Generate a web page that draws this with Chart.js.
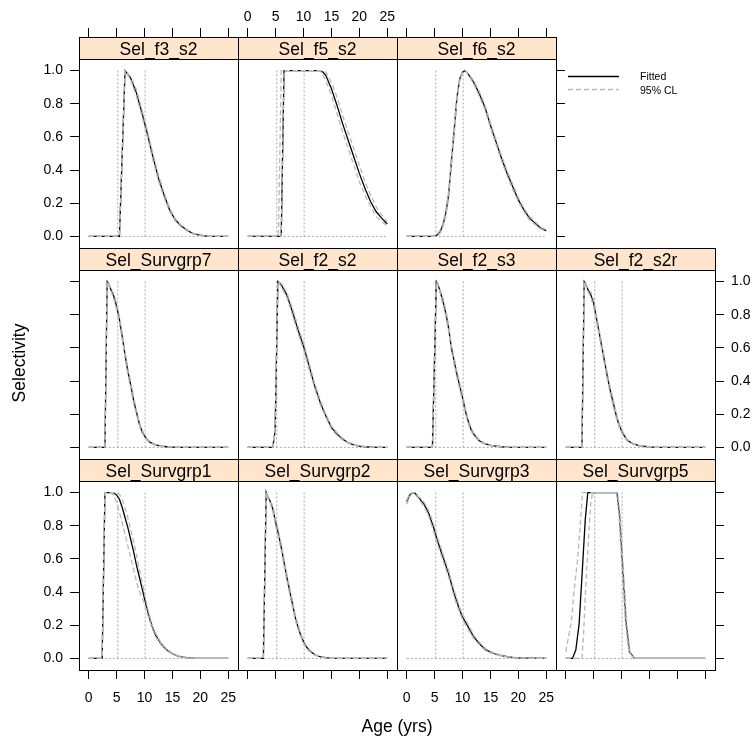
<!DOCTYPE html>
<html><head><meta charset="utf-8">
<script src="https://cdn.jsdelivr.net/npm/chart.js@4.4.1/dist/chart.umd.min.js"></script>
<style>
html,body{margin:0;padding:0;background:#fff;}
#wrap{position:relative;width:755px;height:740px;background:#fff;}
#wrap canvas{position:absolute;left:0;top:0;}
</style></head><body><div id="wrap"></div>
<script>
// ---------- data ----------
const panelNames = ["Sel_f3_s2","Sel_f5_s2","Sel_f6_s2","Sel_Survgrp7","Sel_f2_s2","Sel_f2_s3","Sel_f2_s2r","Sel_Survgrp1","Sel_Survgrp2","Sel_Survgrp3","Sel_Survgrp5"];
const xTicks = [0,5,10,15,20,25];
const yTicks = [0,0.2,0.4,0.6,0.8,1.0];
const refAges = [5.2, 10.1];
const zeroLineAges = [0, 25];
const legendLabels = ["Fitted","95% CL"];
const xTitle = "Age (yrs)";
const yTitle = "Selectivity";

const f3s2Age = [0,5.5,6.5,7.5,8.5,9.5,10.5,11.5,12.5,13.5,14.5,15.5,16.5,17.5,18.5,19.5,20.5,21.5,25];
const f3s2Fit = [0,0,1.0,0.955,0.87,0.75,0.62,0.48,0.35,0.25,0.16,0.10,0.065,0.04,0.02,0.01,0.005,0,0];
const f3s2Lo  = [0,0,1.0,0.945,0.85,0.73,0.60,0.46,0.335,0.235,0.15,0.093,0.058,0.035,0.017,0.008,0.004,0,0];
const f3s2Hi  = [0,0,1.0,0.965,0.89,0.77,0.64,0.50,0.37,0.265,0.17,0.108,0.07,0.045,0.023,0.012,0.006,0,0];

const f5s2Age = [0,5.5,6,6.5,12.8,13,13.3,13.5,14,15,16,17,18,19,20,21,22,23,24,25];
const f5s2Fit = [0,0,0,1,1,1,0.995,0.99,0.97,0.89,0.79,0.68,0.58,0.48,0.38,0.29,0.21,0.15,0.11,0.075];
const f5s2Lo  = [0,0,0,1,1,0.995,0.985,0.97,0.94,0.85,0.74,0.63,0.53,0.43,0.33,0.25,0.18,0.12,0.09,0.065];
const f5s2Hi  = [0,0,1,1,1,1,1,0.998,0.99,0.93,0.84,0.73,0.63,0.53,0.43,0.33,0.25,0.18,0.13,0.09];

const f6s2Age = [0,5,5.5,6,6.5,7,7.5,8,8.5,9,9.5,10,10.5,11,12,13,14,15,16,17,18,19,20,21,22,23,24,25];
const f6s2Fit = [0,0,0.01,0.03,0.07,0.14,0.25,0.45,0.64,0.84,0.95,0.99,1.0,0.98,0.93,0.86,0.78,0.67,0.57,0.47,0.38,0.30,0.22,0.16,0.11,0.08,0.05,0.035];
const f6s2Lo  = [0,0,0.005,0.02,0.06,0.12,0.23,0.42,0.61,0.82,0.94,0.985,1.0,0.975,0.92,0.845,0.765,0.655,0.555,0.455,0.365,0.285,0.21,0.15,0.10,0.072,0.045,0.03];
const f6s2Hi  = [0,0,0.015,0.04,0.08,0.16,0.27,0.48,0.67,0.86,0.96,0.995,1.0,0.985,0.94,0.875,0.795,0.685,0.585,0.485,0.395,0.315,0.235,0.17,0.12,0.088,0.056,0.04];

const sg7Age = [0,2.9,3.3,3.5,4,4.5,5,5.5,6,6.5,7,7.5,8,8.5,9,9.5,10,10.5,11,12,13,14,15,16,25];
const sg7Fit = [0,0,1,0.99,0.95,0.91,0.85,0.77,0.67,0.56,0.46,0.38,0.29,0.22,0.15,0.10,0.07,0.045,0.03,0.015,0.008,0.004,0.002,0,0];
const sg7Lo  = [0,0,1,0.985,0.94,0.895,0.83,0.75,0.65,0.54,0.44,0.36,0.27,0.205,0.14,0.09,0.062,0.04,0.026,0.013,0.007,0.003,0.001,0,0];
const sg7Hi  = [0,0,1,0.995,0.96,0.925,0.87,0.79,0.69,0.58,0.48,0.40,0.31,0.235,0.16,0.11,0.078,0.05,0.034,0.017,0.009,0.005,0.003,0,0];

const f2s2Age = [0,4.5,4.9,5.4,6,7,8,9,10,11,12,13,14,15,16,17,18,19,20,21,22,23,25];
const f2s2Fit = [0,0,0.1,1,0.98,0.92,0.82,0.71,0.61,0.49,0.37,0.27,0.19,0.12,0.08,0.05,0.028,0.015,0.008,0.004,0.002,0,0];
const f2s2Lo  = [0,0,0.08,1,0.97,0.905,0.80,0.69,0.59,0.47,0.355,0.255,0.18,0.11,0.072,0.045,0.025,0.013,0.007,0.003,0.001,0,0];
const f2s2Hi  = [0,0,0.14,1,0.99,0.935,0.84,0.73,0.63,0.51,0.385,0.285,0.20,0.13,0.088,0.056,0.032,0.018,0.01,0.005,0.002,0,0];

const f2s3Age = [0,4.6,5.3,5.5,6,6.5,7,7.5,8,8.5,9,9.5,10,10.5,11,11.5,12,12.5,13,14,15,16,17,18,19,25];
const f2s3Fit = [0,0,1,0.99,0.94,0.88,0.81,0.72,0.60,0.52,0.44,0.37,0.30,0.22,0.16,0.11,0.08,0.06,0.04,0.022,0.012,0.008,0.004,0.002,0,0];
const f2s3Lo  = [0,0,1,0.985,0.93,0.86,0.79,0.70,0.58,0.50,0.42,0.35,0.28,0.205,0.145,0.10,0.072,0.053,0.035,0.019,0.01,0.006,0.003,0.001,0,0];
const f2s3Hi  = [0,0,1,0.995,0.95,0.90,0.83,0.74,0.62,0.54,0.46,0.39,0.32,0.235,0.175,0.12,0.088,0.067,0.045,0.025,0.014,0.009,0.005,0.002,0,0];

const f2s2rAge = [0,2.9,3.3,3.5,4,4.5,5,5.5,6,6.5,7,7.5,8,8.5,9,9.5,10,10.5,11,12,13,14,15,16,25];
const f2s2rFit = [0,0,1,0.99,0.95,0.92,0.87,0.78,0.69,0.60,0.51,0.42,0.34,0.27,0.20,0.14,0.10,0.07,0.045,0.022,0.012,0.007,0.003,0,0];
const f2s2rLo  = [0,0,1,0.985,0.94,0.905,0.85,0.76,0.67,0.58,0.49,0.40,0.32,0.25,0.185,0.13,0.09,0.062,0.04,0.019,0.01,0.005,0.002,0,0];
const f2s2rHi  = [0,0,1,0.995,0.96,0.935,0.89,0.80,0.71,0.62,0.53,0.44,0.36,0.29,0.215,0.15,0.11,0.078,0.05,0.026,0.014,0.008,0.004,0,0];

const sg1Age = [0,2.4,2.9,4,4.4,4.5,5,5.5,6,6.5,7,7.5,8,8.5,9,9.5,10,10.5,11,11.5,12,13,14,15,16,17,18,19,25];
const sg1Fit = [0,0,1,1,1,0.998,0.985,0.96,0.91,0.85,0.79,0.72,0.65,0.57,0.50,0.43,0.36,0.29,0.23,0.18,0.14,0.085,0.05,0.028,0.014,0.007,0.003,0,0];
const sg1Lo  = [0,0,1,1,0.985,0.98,0.94,0.88,0.82,0.75,0.68,0.61,0.54,0.47,0.41,0.37,0.33,0.27,0.22,0.17,0.13,0.08,0.045,0.025,0.012,0.006,0.002,0,0];
const sg1Hi  = [0,0,1,1,1,1,1,0.99,0.96,0.91,0.85,0.78,0.71,0.63,0.55,0.47,0.39,0.31,0.245,0.19,0.15,0.09,0.055,0.03,0.015,0.007,0.003,0,0];

const sg2Age = [0,2.8,3.3,3.5,4,4.5,5,5.5,6,6.5,7,7.5,8,8.5,9,9.5,10,10.5,11,11.5,12,13,14,15,25];
const sg2Fit = [0,0,1,0.98,0.95,0.90,0.82,0.75,0.67,0.58,0.49,0.41,0.33,0.25,0.19,0.14,0.10,0.07,0.05,0.035,0.023,0.01,0.004,0,0];
const sg2Lo  = [0,0,1,0.975,0.94,0.885,0.80,0.73,0.65,0.56,0.47,0.39,0.31,0.235,0.175,0.13,0.09,0.062,0.044,0.03,0.02,0.008,0.003,0,0];
const sg2Hi  = [0,0,1,0.985,0.96,0.915,0.84,0.77,0.69,0.60,0.51,0.43,0.35,0.265,0.205,0.15,0.11,0.078,0.056,0.04,0.026,0.012,0.005,0,0];

const sg3Age = [0,0.5,1,1.5,2,2.5,3,3.5,4,4.5,5,5.5,6,6.5,7,7.5,8,8.5,9,9.5,10,11,12,13,14,15,16,17,18,19,20,21,22,25];
const sg3Fit = [0.945,0.985,1.0,0.995,0.975,0.955,0.935,0.905,0.87,0.82,0.77,0.71,0.66,0.61,0.56,0.51,0.45,0.39,0.34,0.29,0.25,0.19,0.13,0.09,0.056,0.038,0.025,0.017,0.01,0.006,0.004,0.002,0.001,0];
const sg3Lo  = [0.93,0.975,0.995,0.99,0.97,0.945,0.92,0.89,0.85,0.80,0.745,0.69,0.64,0.59,0.54,0.49,0.43,0.37,0.32,0.275,0.235,0.175,0.12,0.082,0.05,0.034,0.022,0.015,0.009,0.005,0.003,0.001,0,0];
const sg3Hi  = [0.955,0.99,1.0,1.0,0.98,0.965,0.945,0.92,0.885,0.84,0.79,0.73,0.68,0.63,0.58,0.53,0.47,0.41,0.36,0.305,0.265,0.205,0.14,0.098,0.062,0.042,0.028,0.019,0.011,0.007,0.005,0.003,0.001,0];

const sg5FitAge = [0,1.2,1.8,2.4,3.0,3.5,3.95,9.2,9.6,10.2,10.8,11.4,12.3,25];
const sg5Fit    = [0,0,0.05,0.21,0.55,0.84,1,1,0.88,0.55,0.22,0.04,0,0];
const sg5HiAge  = [0,1,1.5,2.1,2.7,3.0,9.3,9.7,10.3,10.9,11.5,12.4,25];
const sg5Hi     = [0.04,0.22,0.41,0.59,0.85,1,1,0.88,0.55,0.22,0.04,0,0];
const sg5LoAge  = [0,2.9,3.2,3.5,3.9,4.2,4.5,4.8,9.1,9.5,10.1,10.7,11.3,12.2,25];
const sg5Lo     = [0,0,0.15,0.38,0.62,0.8,0.94,1,1,0.88,0.55,0.22,0.04,0,0];

const series = [
  {fitAge:f3s2Age, fit:f3s2Fit, loAge:f3s2Age, lo:f3s2Lo, hiAge:f3s2Age, hi:f3s2Hi},
  {fitAge:f5s2Age, fit:f5s2Fit, loAge:f5s2Age, lo:f5s2Lo, hiAge:f5s2Age, hi:f5s2Hi},
  {fitAge:f6s2Age, fit:f6s2Fit, loAge:f6s2Age, lo:f6s2Lo, hiAge:f6s2Age, hi:f6s2Hi},
  {fitAge:sg7Age, fit:sg7Fit, loAge:sg7Age, lo:sg7Lo, hiAge:sg7Age, hi:sg7Hi},
  {fitAge:f2s2Age, fit:f2s2Fit, loAge:f2s2Age, lo:f2s2Lo, hiAge:f2s2Age, hi:f2s2Hi},
  {fitAge:f2s3Age, fit:f2s3Fit, loAge:f2s3Age, lo:f2s3Lo, hiAge:f2s3Age, hi:f2s3Hi},
  {fitAge:f2s2rAge, fit:f2s2rFit, loAge:f2s2rAge, lo:f2s2rLo, hiAge:f2s2rAge, hi:f2s2rHi},
  {fitAge:sg1Age, fit:sg1Fit, loAge:sg1Age, lo:sg1Lo, hiAge:sg1Age, hi:sg1Hi},
  {fitAge:sg2Age, fit:sg2Fit, loAge:sg2Age, lo:sg2Lo, hiAge:sg2Age, hi:sg2Hi},
  {fitAge:sg3Age, fit:sg3Fit, loAge:sg3Age, lo:sg3Lo, hiAge:sg3Age, hi:sg3Hi},
  {fitAge:sg5FitAge, fit:sg5Fit, loAge:sg5LoAge, lo:sg5Lo, hiAge:sg5HiAge, hi:sg5Hi}
];

// ---------- layout ----------
const W = 755, H = 740;
const colX = [79, 238, 397, 556, 715];
const rowY = [37, 248, 459, 670];
const STRIP = 22;
const AX_TOP = 30, AX_BOT = 40, AX_LEFT = 45, AX_RIGHT = 38;
const cells = [[0,0],[0,1],[0,2],[1,0],[1,1],[1,2],[1,3],[2,0],[2,1],[2,2],[2,3]];
const X_MIN = -1.75, X_MAX = 26.75;
const Y_MIN = -0.07, Y_TOP = 1.07;
const Y_MAX = Y_TOP + STRIP * (Y_TOP - Y_MIN) / ((rowY[1] - rowY[0]) - STRIP);
const FONT = "'Liberation Sans', Arial, Helvetica, sans-serif";
const CI_COLOR = '#b8b8b8', REF_COLOR = '#a8a8a8';

// which axes show ticks / labels
function axisFlags(r, c) {
  const lastCol = (r === 0) ? 2 : 3;
  return {
    topTicks: r === 0, topLabels: r === 0 && c === 1,
    botTicks: r === 2, botLabels: r === 2 && (c === 0 || c === 2),
    leftTicks: c === 0, leftLabels: c === 0 && (r === 0 || r === 2),
    rightTicks: c === lastCol, rightLabels: c === lastCol && r === 1
  };
}

function pts(ages, vals) { return ages.map((a, i) => ({x: a, y: vals[i]})); }

function xAxis(pos, size, showTicks, showLabels, pad) {
  return {
    type: 'linear', position: pos, min: X_MIN, max: X_MAX,
    afterFit(s) { s.height = size; },
    afterBuildTicks(s) { s.ticks = xTicks.map(v => ({value: v})); },
    grid: {display: true, drawOnChartArea: false, drawTicks: showTicks, tickLength: 9, tickColor: '#000', color: '#000', lineWidth: 1},
    border: {display: true, color: '#000', width: 1},
    ticks: {display: showLabels, autoSkip: false, maxRotation: 0, minRotation: 0, padding: pad, color: '#000',
      font: {family: FONT, size: 14}, callback: v => String(v)}
  };
}
function yAxis(pos, size, showTicks, showLabels) {
  return {
    type: 'linear', position: pos, min: Y_MIN, max: Y_MAX,
    afterFit(s) { s.width = size; },
    afterBuildTicks(s) { s.ticks = yTicks.map(v => ({value: v})); },
    grid: {display: true, drawOnChartArea: false, drawTicks: showTicks, tickLength: 9, tickColor: '#000', color: '#000', lineWidth: 1},
    border: {display: true, color: '#000', width: 1},
    ticks: {display: showLabels, autoSkip: false, padding: 7, color: '#000',
      font: {family: FONT, size: 14}, callback: v => Number(v).toFixed(1)}
  };
}

const stripPlugin = {
  id: 'strip',
  afterDatasetsDraw(chart, args, opts) {
    const {ctx, chartArea} = chart;
    const yb = Math.round(chart.scales.y.getPixelForValue(Y_TOP));
    const l = Math.round(chartArea.left), r = Math.round(chartArea.right), t = Math.round(chartArea.top);
    ctx.save();
    ctx.fillStyle = '#ffe5cc';
    ctx.fillRect(l, t, r - l, yb - t);
    ctx.strokeStyle = '#000'; ctx.lineWidth = 1;
    ctx.strokeRect(l + 0.5, t + 0.5, r - l, yb - t);
    ctx.fillStyle = '#000';
    ctx.font = '17.5px ' + FONT;
    ctx.textAlign = 'center'; ctx.textBaseline = 'alphabetic';
    ctx.fillText(opts.title, (l + r) / 2, t + 17.5);
    ctx.restore();
  }
};

const extrasPlugin = {
  id: 'extras',
  afterDraw(chart, args, opts) {
    const ctx = chart.ctx;
    ctx.save();
    if (opts.titles) {
      ctx.fillStyle = '#000';
      ctx.font = '17.5px ' + FONT;
      ctx.textAlign = 'center'; ctx.textBaseline = 'middle';
      ctx.fillText(xTitle, 397, 727);
      ctx.translate(20, 363);
      ctx.rotate(-Math.PI / 2);
      ctx.fillText(yTitle, 0, 0);
      ctx.setTransform(1, 0, 0, 1, 0, 0);
    }
    if (opts.legend) {
      ctx.lineWidth = 1.3;
      ctx.strokeStyle = '#000';
      ctx.beginPath(); ctx.moveTo(568, 76.5); ctx.lineTo(619, 76.5); ctx.stroke();
      ctx.strokeStyle = CI_COLOR; ctx.setLineDash([5, 3]);
      ctx.beginPath(); ctx.moveTo(568, 89.5); ctx.lineTo(619, 89.5); ctx.stroke();
      ctx.setLineDash([]);
      ctx.fillStyle = '#000';
      ctx.font = '10.5px ' + FONT;
      ctx.textAlign = 'left'; ctx.textBaseline = 'middle';
      ctx.fillText(legendLabels[0], 640, 77.5);
      ctx.fillText(legendLabels[1], 640, 91);
    }
    ctx.restore();
  }
};

const wrap = document.getElementById('wrap');
cells.forEach(([r, c], i) => {
  const cv = document.createElement('canvas');
  cv.width = W; cv.height = H;
  cv.style.width = W + 'px'; cv.style.height = H + 'px';
  wrap.appendChild(cv);
  const f = axisFlags(r, c);
  const s = series[i];
  const left = colX[c], right = colX[c + 1], top = rowY[r], bottom = rowY[r + 1];
  const refSets = refAges.map(a => ({
    data: [{x: a, y: 0}, {x: a, y: 1}], borderColor: REF_COLOR, borderWidth: 1, borderDash: [2, 2], pointRadius: 0, order: 10
  }));
  const datasets = [
    {data: pts(s.hiAge, s.hi), borderColor: CI_COLOR, borderWidth: 1.3, borderDash: [5, 3], pointRadius: 0, order: 1},
    {data: pts(s.loAge, s.lo), borderColor: CI_COLOR, borderWidth: 1.3, borderDash: [5, 3], pointRadius: 0, order: 2},
    {data: pts(s.fitAge, s.fit), borderColor: '#000', borderWidth: 1.3, pointRadius: 0, order: 3},
    ...refSets,
    {data: zeroLineAges.map(a => ({x: a, y: 0})), borderColor: REF_COLOR, borderWidth: 1, borderDash: [2, 2], pointRadius: 0, order: 11}
  ];
  new Chart(cv, {
    type: 'line',
    data: {datasets},
    options: {
      responsive: false, animation: false, events: [],
      devicePixelRatio: 1,
      layout: {autoPadding: false, padding: {left: left - AX_LEFT, right: W - right - AX_RIGHT, top: top - AX_TOP, bottom: H - bottom - AX_BOT}},
      elements: {line: {tension: 0, fill: false}},
      scales: {
        x: xAxis('bottom', AX_BOT, f.botTicks, f.botLabels, 11),
        x2: xAxis('top', AX_TOP, f.topTicks, f.topLabels, 2),
        y: yAxis('left', AX_LEFT, f.leftTicks, f.leftLabels),
        y2: yAxis('right', AX_RIGHT, f.rightTicks, f.rightLabels)
      },
      plugins: {
        legend: {display: false}, tooltip: {enabled: false}, title: {display: false},
        strip: {title: panelNames[i]},
        extras: {titles: i === 0, legend: i === 2}
      }
    },
    plugins: [stripPlugin, extrasPlugin]
  });
});
</script>
</body></html>
